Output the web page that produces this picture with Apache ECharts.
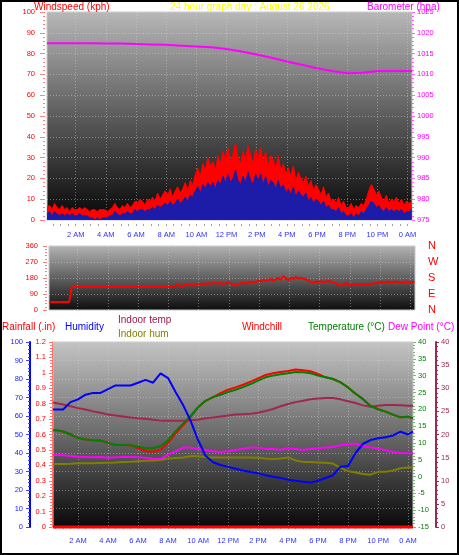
<!DOCTYPE html>
<html><head><meta charset="utf-8">
<script src="https://cdn.jsdelivr.net/npm/echarts@6/dist/echarts.min.js"></script>
<style>html,body{margin:0;padding:0;background:#fff;}#c{width:459px;height:555px;}</style>
</head><body><div id="c"></div>
<script>
// ---------- labels ----------
const hourTicks = [2,4,6,8,10,12,14,16,18,20,22,24];
const hourLabels = ['2 AM','4 AM','6 AM','8 AM','10 AM','12 PM','2 PM','4 PM','6 PM','8 PM','10 PM','0 AM'];
const halfHourTicks = [0.5,1,1.5,2,2.5,3,3.5,4,4.5,5,5.5,6,6.5,7,7.5,8,8.5,9,9.5,10,10.5,11,11.5,12,12.5,13,13.5,14,14.5,15,15.5,16,16.5,17,17.5,18,18.5,19,19.5,20,20.5,21,21.5,22,22.5,23,23.5,24];
const dirLabels = ['N','E','S','W','N'];

// ---------- wind (10-minute samples from 0.1 h) ----------
const windStartHour = 0.1;
const windStepMinutes = 10;
const windGust = [6,7,5,8,6,5, 7,5,6,4,6,5, 5,6,5,6,5,4, 5,5,4,5,5,5, 4,5,6,8,6,5, 7,6,8,6,7,9,
  8,10,9,7,10,9, 11,9,13,10,12,14, 12,15,11,14,16,13, 15,18,14,19,17,22, 25,21,27,24,30,26, 28,24,31,27,33,29,
  35,28,32,37,30,27, 33,29,36,31,27,34, 30,35,28,33,26,31, 29,25,31,24,27,22, 25,21,26,19,23,20, 18,21,16,19,14,17,
  15,12,16,11,13,9, 10,8,11,7,9,6, 6,8,5,7,6,8, 7,10,14,17,15,12, 14,11,9,12,8,10, 9,11,8,10,7,9, 8,9];
const windAvg = [3,4,2,4,3,2, 3,2,3,2,3,2, 2,3,2,2,2,1, 1,0,1,0,1,1, 1,2,2,4,3,2, 3,3,4,3,3,5,
  4,5,5,4,5,5, 6,5,7,6,7,8, 7,9,7,8,10,8, 9,11,9,12,11,14, 16,13,17,15,18,16, 18,15,19,17,21,18,
  22,18,20,24,19,17, 21,18,23,19,17,22, 19,22,17,21,16,19, 18,15,19,15,17,13, 15,12,16,11,14,12, 11,13,9,11,8,10,
  9,7,9,6,7,5, 5,4,6,3,4,2, 2,3,1,3,2,4, 3,5,7,9,8,6, 7,5,4,6,4,5, 4,5,4,5,3,4, 4,5];
const windDir = [45,45,45,45,45,45,45,45,45,
  130,130,130,130,130,130,130,130,130,130,130,130,130,130,130,130,130,130,130,130,
  130,130,130,130,130,130,130,130,130,130,130,130,130,130,130,130,130,130,130,130,
  133,138,142,135,131,144,139,146,137,141,148,143,150,145,
  152,147,150,155,148,153,146,150,156,151,143,138,145,150,154,149,156,160,153,
  158,165,160,170,163,168,175,165,172,180,170,190,178,168,182,175,185,177,180,176,172,165,
  158,155,160,157,162,156,160,164,158,153,150,
  140,137,145,152,138,142,
  145,146,144,147,145,146,144,148,150,152,
  156,158,155,160,157,154,158,161,156,152,157,160,155,158,157];

// ---------- barometer ----------
const baroHours = [0.1,1,2,3,4,5,6,7,8,9,10,11,12,13,14,15,16,17,18,19,20,21,22,23,24,24.3];
const baroHpa = [1017.5,1017.5,1017.5,1017.5,1017.4,1017.4,1017.3,1017.2,1017.1,1016.9,1016.7,1016.5,1016.1,1015.5,1014.8,1014.0,1013.1,1012.3,1011.5,1010.8,1010.3,1010.4,1010.8,1010.8,1010.8,1010.8];

// ---------- bottom panel ----------
const climateHours = [0.33,0.5,1,1.5,2,2.5,3,3.5,4,4.5,5,5.5,6,6.5,7,7.5,8,8.5,9,9.5,10,10.5,11,11.5,12,12.5,13,13.5,14,14.5,15,15.5,16,16.5,17,17.5,18,18.5,19,19.5,20,20.5,21,21.5,22,22.5,23,23.5,24,24.33];
const humidity = [63.5,63.5,63.5,67.5,69,71.5,72.5,72.5,74.5,76.5,76.5,76.5,78,79.5,78,83,80.5,73,66,57.5,47,38.5,35,33.5,32.5,31.5,30.5,29.7,29,28,27.2,26.5,25.6,25,24.5,24,25,26.5,28,32.6,33,40,45,47,48,48.5,49.5,51.5,50,51.5];
const temperature = [13.8,13.8,13.4,12.5,11.5,11.0,10.8,10.7,10.0,9.4,9.4,9.3, 8.9,8.4,8.4,9.0,10.8,13.4,15.7,18.0,20.6,22.5,23.6,24.3, 25.1,25.8,26.6,27.5,28.5,29.5,30.0,30.4,30.7,31.1,31.0,30.7, 30.0,29.5,29.0,28.0,26.5,24.6,23.0,21.0,20.0,19.3,18.4,17.6, 17.8,17.3];
const windchill = [13.8,13.8,13.4,12.5,11.5,11.0,10.8,10.7,10.0,9.4,9.4,9.3, 8.5,7.6,7.4,8.0,10.0,12.8,15.3,17.7,20.6,22.5,23.6,24.8, 25.8,26.5,27.3,28.2,29.2,30.2,30.7,31.1,31.4,31.8,31.6,31.3, 30.5,29.5,29.0,28.0,26.5,24.6,23.0,21.0,20.0,19.3,18.4,17.6, 17.8,17.3];
const dewPoint = [6.4,6.5,6.3,6.1,5.9,5.8,5.7,5.8,5.6,5.7,5.9,5.8, 5.7,5.6,5.3,5.2,6.5,7.5,8.6,8.6,8.2,7.9,7.5,7.3, 7.5,7.9,8.3,8.6,8.6,8.3,8.2,8.0,8.4,8.2,7.9,8.2, 8.4,8.6,8.8,9.3,9.6,9.8,9.0,8.7,8.3,7.8,7.3,7.0, 6.9,6.9];
const indoorTemp = [26.9,26.8,26.5,26.1,25.7,25.4,25.0,24.7,24.3,24.1,23.9,23.7, 23.5,23.4,23.2,23.0,23.0,23.0,23.0,23.1,23.2,23.5,23.7,23.9, 24.1,24.3,24.4,24.5,24.7,25.1,25.5,26.1,26.6,27.0,27.3,27.6, 27.8,27.9,27.9,27.6,27.2,26.8,26.3,26.0,26.2,26.4,26.4,26.3, 26.2,26.2];
const indoorHum = [34.0,34.0,34.1,34.2,34.4,34.4,34.5,34.6,34.7,34.8,35.2,35.3, 35.6,35.8,36.0,36.2,37.0,37.3,37.6,38.3,38.2,37.8,37.6,37.6, 37.6,37.6,37.6,37.6,37.4,37.0,36.7,37.0,37.6,36.0,35.2,35.1, 34.9,34.7,34.3,32.0,30.2,29.5,28.6,28.3,29.8,29.8,30.6,31.8, 32.2,32.2];
const rainHours = [0.33,24.33];
const rainfall = [0,0];

// ---------- build ----------
const windTimes = windGust.map((_, i) => windStartHour + i * windStepMinutes / 60);
const pairs = (xs, ys) => ys.map((v, i) => [xs[i], v]);
const FONT = '"Liberation Sans", Arial, sans-serif';
const hourFmt = v => { const i = hourTicks.indexOf(Math.round(v)); return i >= 0 ? hourLabels[i] : ''; };
const plain = v => String(Math.round(v * 10) / 10);
const dotted = { color: 'rgba(215,215,215,0.45)', type: [1, 2], width: 1 };
const grad = (c0, c1, c2) => ({ type: 'linear', x: 0, y: 0, x2: 0, y2: 1,
  colorStops: [{ offset: 0, color: c0 }, { offset: 0.5, color: c1 }, { offset: 1, color: c2 }] });

function labelAxis(grid, min, max, offset, showLabels) {
  return { type: 'value', gridIndex: grid, min: min, max: max, position: 'bottom', offset: offset,
    axisLine: { show: false }, axisTick: { show: false, customValues: hourTicks },
    axisLabel: { show: showLabels, customValues: hourTicks, formatter: hourFmt, color: '#3030ff',
      fontSize: 7.5, fontFamily: FONT, margin: 7 },
    splitLine: { show: true, lineStyle: dotted } };
}
function tickAxis(grid, min, max, offset) {
  return { type: 'value', gridIndex: grid, min: min, max: max, position: 'bottom', offset: offset,
    axisLine: { show: false }, axisLabel: { show: false }, splitLine: { show: false },
    axisTick: { show: true, customValues: halfHourTicks, length: 2, lineStyle: { color: '#a0a0a0' } } };
}
function yAx(o) {
  const c = o.tickColor || o.color;
  return { type: 'value', gridIndex: o.grid, min: o.min, max: o.max, interval: o.interval,
    position: o.pos, offset: o.offset || 0,
    axisLine: o.line ? { show: true, lineStyle: o.line } : { show: false },
    axisTick: { show: o.ticks !== false, length: o.tickLen || 4, lineStyle: { color: c } },
    minorTick: { show: o.ticks !== false, splitNumber: o.minor || 5, length: 2, lineStyle: { color: c } },
    axisLabel: { color: o.color, fontSize: o.fontSize || 7.5, fontFamily: FONT, margin: o.margin || 6,
      formatter: o.formatter || plain },
    splitLine: o.split ? { show: true, lineStyle: dotted } : { show: false } };
}

const option = {
  animation: false,
  backgroundColor: '#ffffff',
  grid: [
    { left: 47, top: 12, width: 365, height: 208, show: true, borderColor: '#c8c8c8', borderWidth: 1,
      backgroundColor: grad('#b8b8b8', '#5c5c5c', '#060606') },
    { left: 49, top: 246, width: 366, height: 64, show: true, borderColor: '#c8c8c8', borderWidth: 1,
      backgroundColor: grad('#b4b4b4', '#606060', '#0c0c0c') },
    { left: 53, top: 342, width: 360, height: 185, show: true, borderColor: '#c8c8c8', borderWidth: 1,
      backgroundColor: grad('#c4c4c4', '#6a6a6a', '#080808') }
  ],
  xAxis: [
    labelAxis(0, 0.1, 24.3, 4, true),
    tickAxis(0, 0.1, 24.3, 4),
    labelAxis(1, 0.1, 24.3, 0, false),
    labelAxis(2, 0.33, 24.33, 3, true),
    tickAxis(2, 0.33, 24.33, 3)
  ],
  yAxis: [
    yAx({ grid: 0, min: 0, max: 100, interval: 10, pos: 'left', offset: 2, color: '#ff0000', tickColor: '#ff8080', tickLen: 5, margin: 10, split: true }),
    yAx({ grid: 0, min: 975, max: 1025, interval: 5, pos: 'right', color: '#ff00ff', tickColor: '#ff60ff', tickLen: 3, margin: 5 }),
    yAx({ grid: 1, min: 0, max: 360, interval: 90, pos: 'left', offset: 2, color: '#ff0000', tickColor: '#ff8080', tickLen: 4, margin: 9, split: true }),
    yAx({ grid: 1, min: 0, max: 360, interval: 90, pos: 'right', color: '#ff0000', ticks: false, fontSize: 11, margin: 13,
      formatter: v => dirLabels[Math.round(v / 90)] }),
    yAx({ grid: 2, min: 0, max: 100, interval: 10, pos: 'left', offset: 23, color: '#2020ff', tickColor: '#4040ff', tickLen: 4, margin: 7,
      line: { color: '#0000ff', width: 2 }, split: true }),
    yAx({ grid: 2, min: 0, max: 1.2, interval: 0.1, pos: 'left', offset: 1, color: '#ff0000', tickColor: '#ff7070', tickLen: 3, margin: 6,
      line: { color: '#ff6060', width: 1, type: [1, 1] } }),
    yAx({ grid: 2, min: -15, max: 40, interval: 5, pos: 'right', color: '#008000', tickColor: '#70c070', tickLen: 3, margin: 5 }),
    yAx({ grid: 2, min: 0, max: 40, interval: 5, pos: 'right', offset: 23, color: '#a0284c', tickColor: '#a0284c', tickLen: 3, margin: 5,
      line: { color: '#a0284c', width: 2 } })
  ],
  series: [
    { type: 'line', xAxisIndex: 0, yAxisIndex: 0, data: pairs(windTimes, windGust), symbol: 'none',
      lineStyle: { color: '#ff0000', width: 1 }, areaStyle: { color: '#ff0000', opacity: 1 } },
    { type: 'line', xAxisIndex: 0, yAxisIndex: 0, data: pairs(windTimes, windAvg), symbol: 'none',
      lineStyle: { color: '#1c1ca8', width: 1 }, areaStyle: { color: '#1c1ca8', opacity: 1 } },
    { type: 'line', xAxisIndex: 0, yAxisIndex: 1, data: pairs(baroHours, baroHpa), symbol: 'none',
      lineStyle: { color: '#ff00ff', width: 2 } },
    { type: 'line', xAxisIndex: 2, yAxisIndex: 2, data: pairs(windTimes, windDir), symbol: 'none',
      lineStyle: { color: '#ff0000', width: 2 } },
    { type: 'line', xAxisIndex: 3, yAxisIndex: 7, data: pairs(climateHours, indoorTemp), symbol: 'none',
      lineStyle: { color: '#a0284c', width: 2 } },
    { type: 'line', xAxisIndex: 3, yAxisIndex: 4, data: pairs(climateHours, indoorHum), symbol: 'none',
      lineStyle: { color: '#808000', width: 2 } },
    { type: 'line', xAxisIndex: 3, yAxisIndex: 6, data: pairs(climateHours, dewPoint), symbol: 'none',
      lineStyle: { color: '#ff00ff', width: 2 } },
    { type: 'line', xAxisIndex: 3, yAxisIndex: 6, data: pairs(climateHours, windchill), symbol: 'none',
      lineStyle: { color: '#ff0000', width: 2 } },
    { type: 'line', xAxisIndex: 3, yAxisIndex: 6, data: pairs(climateHours, temperature), symbol: 'none',
      lineStyle: { color: '#008000', width: 2 } },
    { type: 'line', xAxisIndex: 3, yAxisIndex: 4, data: pairs(climateHours, humidity), symbol: 'none',
      lineStyle: { color: '#0000ff', width: 2 } },
    { type: 'line', xAxisIndex: 3, yAxisIndex: 5, data: pairs(rainHours, rainfall), symbol: 'none', clip: false,
      lineStyle: { color: '#ff0000', width: 3 } }
  ],
  graphic: [
    { type: 'rect', shape: { x: 1, y: 1, width: 457, height: 553 }, style: { fill: 'none', stroke: '#000', lineWidth: 2 }, z: 100 },
    { type: 'text', x: 34, y: 2, style: { text: 'Windspeed (kph)', fill: '#ff0000', fontSize: 10, fontFamily: FONT } },
    { type: 'text', x: 170, y: 2, style: { text: '24 hour graph day : August 26 2026', fill: '#ffff00', fontSize: 10, fontFamily: FONT } },
    { type: 'text', x: 367, y: 2, style: { text: 'Barometer (hpa)', fill: '#ff00ff', fontSize: 10, fontFamily: FONT } },
    { type: 'text', x: 2, y: 322, style: { text: 'Rainfall (.in)', fill: '#ff0000', fontSize: 10, fontFamily: FONT } },
    { type: 'text', x: 65, y: 322, style: { text: 'Humidity', fill: '#0000ff', fontSize: 10, fontFamily: FONT } },
    { type: 'text', x: 118, y: 315, style: { text: 'Indoor temp', fill: '#a01848', fontSize: 10, fontFamily: FONT } },
    { type: 'text', x: 118, y: 329, style: { text: 'Indoor hum', fill: '#808000', fontSize: 10, fontFamily: FONT } },
    { type: 'text', x: 242, y: 322, style: { text: 'Windchill', fill: '#ff0000', fontSize: 10, fontFamily: FONT } },
    { type: 'text', x: 308, y: 322, style: { text: 'Temperature (°C)', fill: '#008000', fontSize: 10, fontFamily: FONT } },
    { type: 'text', x: 388, y: 322, style: { text: 'Dew Point (°C)', fill: '#ff00ff', fontSize: 10, fontFamily: FONT } }
  ]
};
const chart = echarts.init(document.getElementById('c'));
chart.setOption(option);
</script>
</body></html>
